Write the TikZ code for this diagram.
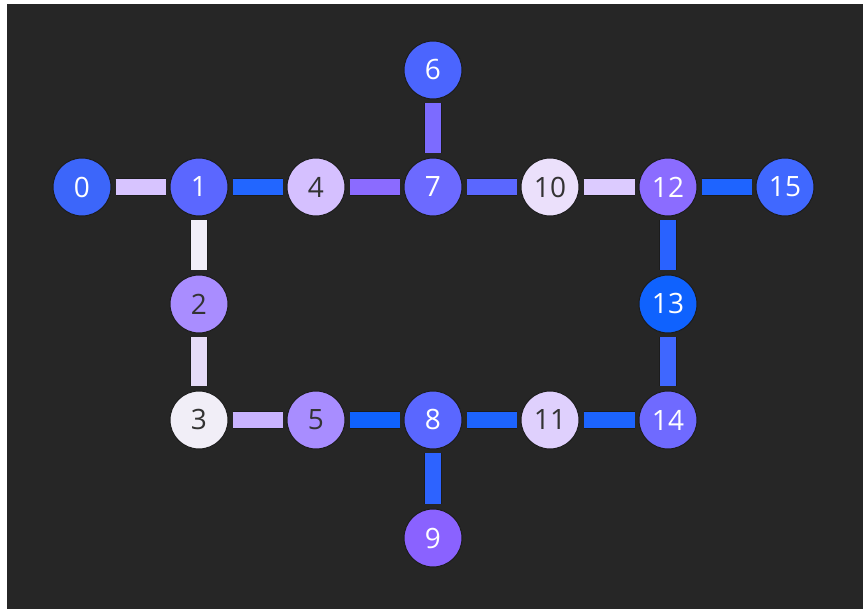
\documentclass[tikz,border=0pt]{standalone}
\usepackage{fontspec}
\setmainfont{Open Sans}
\definecolor{bg}{HTML}{262626}
\definecolor{txtdark}{HTML}{333333}
\definecolor{rim}{HTML}{1C1C1C}
\definecolor{nA}{HTML}{3C66FA}
\definecolor{nB}{HTML}{5B67FF}
\definecolor{nC}{HTML}{A98DFF}
\definecolor{nD}{HTML}{F1EEF7}
\definecolor{nE}{HTML}{D5C0FF}
\definecolor{nF}{HTML}{A88DFF}
\definecolor{nG}{HTML}{4B65FE}
\definecolor{nH}{HTML}{6C6AFF}
\definecolor{nI}{HTML}{5A67FF}
\definecolor{nJ}{HTML}{8A62FF}
\definecolor{nK}{HTML}{EBE0FB}
\definecolor{nL}{HTML}{DFD0FD}
\definecolor{nM}{HTML}{8B6CFF}
\definecolor{nN}{HTML}{0F62FE}
\definecolor{nO}{HTML}{6F6AFF}
\definecolor{nP}{HTML}{4068FF}
\definecolor{eA}{HTML}{D7C4FF}
\definecolor{eB}{HTML}{2266FF}
\definecolor{eC}{HTML}{8B6BFF}
\definecolor{eD}{HTML}{5A67FF}
\definecolor{eE}{HTML}{DCCBFF}
\definecolor{eF}{HTML}{1E64FF}
\definecolor{eG}{HTML}{2962FF}
\definecolor{eH}{HTML}{3F67FF}
\definecolor{eI}{HTML}{F1EEF9}
\definecolor{eJ}{HTML}{E6DCF8}
\definecolor{eK}{HTML}{C9B3FF}
\definecolor{eL}{HTML}{0F62FE}
\definecolor{eM}{HTML}{1D64FE}
\definecolor{eN}{HTML}{1C64FE}
\definecolor{eO}{HTML}{7C6BFF}
\definecolor{eP}{HTML}{2D63FF}
\tikzset{
  qubit/.style={circle, minimum size=58pt, inner sep=0pt, draw=rim, line width=1pt,
    font=\fontsize{28}{28}\selectfont},
  lighttxt/.style={text=white},
  darktxt/.style={text=txtdark},
  link/.style={line width=16pt, shorten <=4pt, shorten >=4pt,
    preaction={draw=rim, line width=17.5pt, shorten <=4pt, shorten >=4pt}}
}
\begin{document}
\begin{tikzpicture}[x=1pt, y=-1pt]
\useasboundingbox (0,0) rectangle (863,609);
\fill[bg] (7,4) rectangle (863,609);
\node[qubit, fill=nA, lighttxt] (q0) at (82,187) {0};
\node[qubit, fill=nB, lighttxt] (q1) at (199,187) {1};
\node[qubit, fill=nC, darktxt] (q2) at (199,304) {2};
\node[qubit, fill=nD, darktxt] (q3) at (199,420) {3};
\node[qubit, fill=nE, darktxt] (q4) at (316,187) {4};
\node[qubit, fill=nF, darktxt] (q5) at (316,420) {5};
\node[qubit, fill=nG, lighttxt] (q6) at (433,70) {6};
\node[qubit, fill=nH, lighttxt] (q7) at (433,187) {7};
\node[qubit, fill=nI, lighttxt] (q8) at (433,420) {8};
\node[qubit, fill=nJ, lighttxt] (q9) at (433,538) {9};
\node[qubit, fill=nK, darktxt] (q10) at (550,187) {10};
\node[qubit, fill=nL, darktxt] (q11) at (550,420) {11};
\node[qubit, fill=nM, lighttxt] (q12) at (668,187) {12};
\node[qubit, fill=nN, lighttxt] (q13) at (668,304) {13};
\node[qubit, fill=nO, lighttxt] (q14) at (668,420) {14};
\node[qubit, fill=nP, lighttxt] (q15) at (785,187) {15};
\draw[link, eA] (q0) -- (q1);
\draw[link, eB] (q1) -- (q4);
\draw[link, eC] (q4) -- (q7);
\draw[link, eD] (q7) -- (q10);
\draw[link, eE] (q10) -- (q12);
\draw[link, eF] (q12) -- (q15);
\draw[link, eG] (q12) -- (q13);
\draw[link, eH] (q13) -- (q14);
\draw[link, eI] (q1) -- (q2);
\draw[link, eJ] (q2) -- (q3);
\draw[link, eK] (q3) -- (q5);
\draw[link, eL] (q5) -- (q8);
\draw[link, eM] (q8) -- (q11);
\draw[link, eN] (q11) -- (q14);
\draw[link, eO] (q6) -- (q7);
\draw[link, eP] (q8) -- (q9);
\end{tikzpicture}
\end{document}
